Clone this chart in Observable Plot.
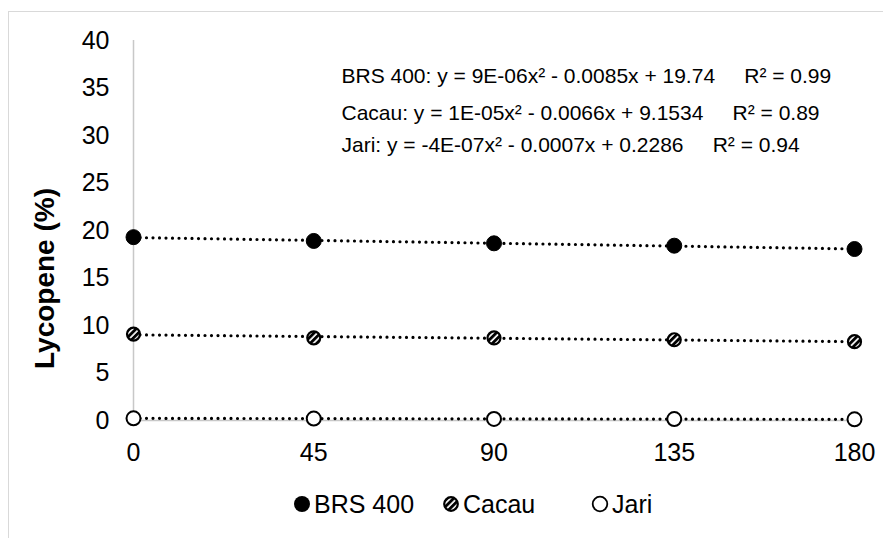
<!DOCTYPE html>
<html>
<head>
<meta charset="utf-8">
<script src="https://cdn.jsdelivr.net/npm/d3@7"></script>
<script src="https://cdn.jsdelivr.net/npm/@observablehq/plot@0.6"></script>
<style>
  html, body { margin: 0; padding: 0; background: #fff; overflow: hidden; width: 883px; height: 538px; }
  #frame { position: absolute; left: 8px; top: 11px; width: 1000px; height: 700px; border: 1.5px solid #d9d9d9; box-sizing: border-box; pointer-events: none; }
  #chart { position: absolute; left: 0; top: 0; }
  #legend { position: absolute; left: 0; top: 470px; width: 883px; height: 68px; display: flex; align-items: center; padding-left: 293px; box-sizing: border-box; font-family: "Liberation Sans", Arial, sans-serif; font-size: 25px; color: #000; }
  .item { display: flex; align-items: center; width: 149px; }
  .item svg { margin-right: 3px; }
</style>
</head>
<body>
<div id="frame"></div>
<div id="chart"></div>
<div id="legend"></div>
<script>
// ---- data ----
const days = [0, 45, 90, 135, 180];
const brs400 = [19.3, 18.9, 18.65, 18.4, 18.05];
const cacau = [9.1, 8.7, 8.7, 8.5, 8.3];
const jari = [0.23, 0.2, 0.17, 0.15, 0.12];
const seriesNames = ["BRS 400", "Cacau", "Jari"];
const xTicks = [0, 45, 90, 135, 180];
const yTicks = [0, 5, 10, 15, 20, 25, 30, 35, 40];
const equations = [
  "BRS 400: y = 9E-06x² - 0.0085x + 19.74\u00a0\u00a0\u00a0\u00a0\u00a0R² = 0.99",
  "Cacau: y = 1E-05x² - 0.0066x + 9.1534\u00a0\u00a0\u00a0\u00a0\u00a0R² = 0.89",
  "Jari: y = -4E-07x² - 0.0007x + 0.2286\u00a0\u00a0\u00a0\u00a0\u00a0R² = 0.94"
];
const yLabel = "Lycopene (%)";

const seriesValues = [brs400, cacau, jari];
const rows = [];
seriesNames.forEach((s, i) => days.forEach((d, j) => rows.push({series: s, day: d, value: seriesValues[i][j]})));
const bySeries = name => rows.filter(r => r.series === name);

const font = '"Liberation Sans", Arial, sans-serif';
const grey = "#c8c8c8";

const plot = Plot.plot({
  width: 883,
  height: 470,
  marginLeft: 133,
  marginRight: 29,
  marginTop: 40,
  marginBottom: 50,
  style: {fontFamily: font, fontSize: "25px", color: "#000", background: "transparent", overflow: "visible"},
  x: {domain: [0, 180], ticks: xTicks, tickSize: 0, tickPadding: 23, label: null},
  y: {domain: [0, 40], ticks: yTicks, tickSize: 0, tickPadding: 24, label: null},
  marks: [
    Plot.ruleX([0], {stroke: grey, strokeWidth: 1.5}),
    Plot.ruleY([0], {stroke: grey, strokeWidth: 1.5}),
    ...seriesNames.map(s => Plot.linearRegressionY(bySeries(s), {
      x: "day", y: "value", ci: 0, stroke: "#000", strokeWidth: 3.2,
      strokeDasharray: "0 6.5", strokeLinecap: "round"
    })),
    Plot.dot(bySeries("BRS 400"), {x: "day", y: "value", r: 7.5, fill: "#000", stroke: "#000", strokeWidth: 1}),
    Plot.dot(bySeries("Cacau"), {x: "day", y: "value", r: 6.5, fill: "url(#hatch)", stroke: "#000", strokeWidth: 2.2}),
    Plot.dot(bySeries("Jari"), {x: "day", y: "value", r: 7, fill: "#fff", stroke: "#000", strokeWidth: 2}),
    Plot.text([equations[0]], {text: d => d, frameAnchor: "top-left", textAnchor: "start", lineAnchor: "middle", dx: 208, dy: 36, fontSize: 21}),
    Plot.text([equations[1]], {text: d => d, frameAnchor: "top-left", textAnchor: "start", lineAnchor: "middle", dx: 208, dy: 73, fontSize: 21}),
    Plot.text([equations[2]], {text: d => d, frameAnchor: "top-left", textAnchor: "start", lineAnchor: "middle", dx: 208, dy: 105, fontSize: 21}),
    Plot.text([yLabel], {text: d => d, frameAnchor: "left", rotate: -90, dx: -88, dy: 48, fontSize: 28, fontWeight: "bold", textAnchor: "middle", lineAnchor: "middle"})
  ]
});

// hatch pattern for Cacau markers
const defs = d3.select(plot).insert("defs", ":first-child");
const pat = defs.append("pattern").attr("id", "hatch").attr("patternUnits", "userSpaceOnUse")
  .attr("width", 4.6).attr("height", 4.6).attr("patternTransform", "rotate(45)");
pat.append("rect").attr("width", 4.6).attr("height", 4.6).attr("fill", "#fff");
pat.append("rect").attr("width", 2.9).attr("height", 4.6).attr("fill", "#000");

document.getElementById("chart").appendChild(plot);

// legend
const legend = document.getElementById("legend");
const symbols = {
  "BRS 400": '<svg width="18" height="18"><circle cx="9" cy="9" r="8" fill="#000"/></svg>',
  "Cacau": '<svg width="18" height="18"><defs><pattern id="hatchL" patternUnits="userSpaceOnUse" width="4.6" height="4.6" patternTransform="rotate(45)"><rect width="4.6" height="4.6" fill="#fff"/><rect width="2.9" height="4.6" fill="#000"/></pattern></defs><circle cx="9" cy="9" r="6.8" fill="url(#hatchL)" stroke="#000" stroke-width="2.2"/></svg>',
  "Jari": '<svg width="18" height="18"><circle cx="9" cy="9" r="7.3" fill="#fff" stroke="#000" stroke-width="1.8"/></svg>'
};
seriesNames.forEach(s => {
  const it = document.createElement("div");
  it.className = "item";
  it.innerHTML = symbols[s] + "<span>" + s + "</span>";
  legend.appendChild(it);
});
</script>
</body>
</html>
